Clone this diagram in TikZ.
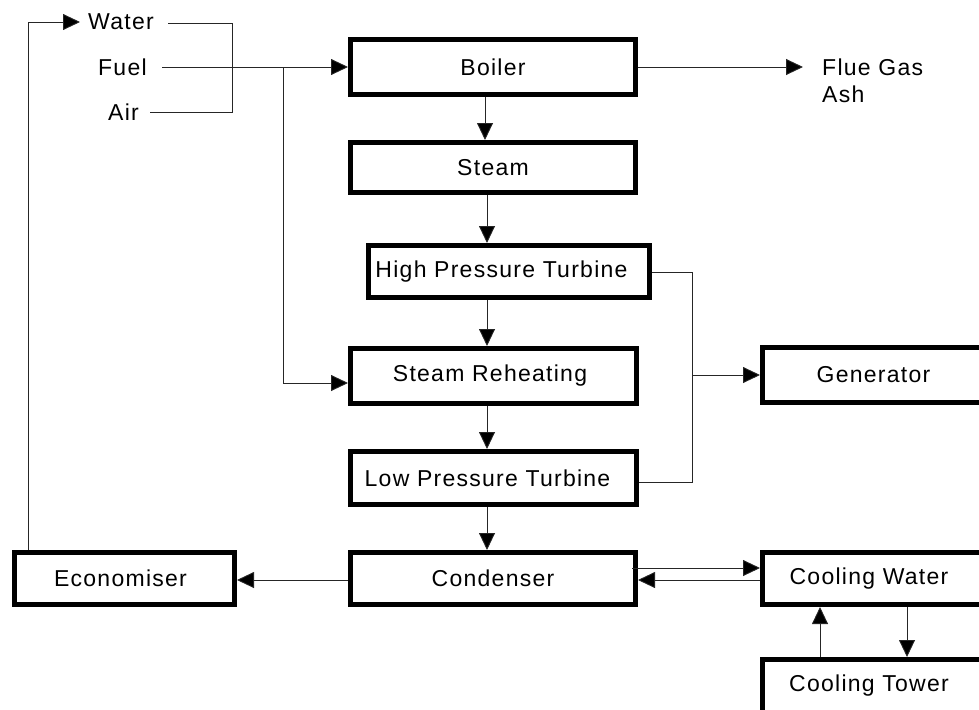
\documentclass[tikz,border=0pt]{standalone}
\usepackage{fontspec}
\setmainfont{Liberation Sans}[LetterSpace=5.5]
\usetikzlibrary{arrows.meta}
\begin{document}
\begin{tikzpicture}[x=1pt,y=-1pt,
  box/.style={draw=black,line width=5pt,rectangle,inner sep=0pt,font=\fontsize{23}{27}\selectfont},
  lbl/.style={inner sep=0pt,anchor=west,font=\fontsize{23}{27}\selectfont},
  conn/.style={line width=0.9pt,draw=black!85},
  arr/.style={conn,-{Triangle[length=17pt,width=16pt,fill=black]}}]
\useasboundingbox (0,0) rectangle (979,709);
\clip (0,0) rectangle (979,709);
% boxes
\node[box,minimum width=285pt,minimum height=55pt] (boiler) at (493,67) {Boiler};
\node[box,minimum width=285pt,minimum height=50pt] (steam) at (493,167.5) {Steam};
\node[box,minimum width=281pt,minimum height=52pt] (hpt) at (509,271.5) {\hspace*{-15pt}High Pressure Turbine};
\node[box,minimum width=286pt,minimum height=55pt] (reheat) at (493.5,376) {\hspace*{-7pt}Steam Reheating};
\node[box,minimum width=286pt,minimum height=53pt] (lpt) at (493.5,478) {\hspace*{-12pt}Low Pressure Turbine};
\node[box,minimum width=285pt,minimum height=52pt] (cond) at (493,578.5) {Condenser};
\node[box,minimum width=220pt,minimum height=52pt] (econ) at (124.5,578.5) {\hspace*{-8pt}Economiser};
\node[box,minimum width=225pt,minimum height=55pt] (gen) at (875,375) {\hspace*{-3pt}Generator};
\node[box,minimum width=225pt,minimum height=52pt] (cw) at (875,578.5) {\hspace*{-12pt}Cooling Water};
\node[box,minimum width=225pt,minimum height=53pt] (ct) at (875,686) {\hspace*{-12pt}Cooling Tower};
% labels
\node[lbl] (water) at (88,22) {Water};
\node[lbl] (fuel) at (98,67) {Fuel};
\node[lbl] (air) at (108,112) {Air};
\node[lbl,align=left] (flue) at (822,81) {Flue Gas\\Ash};
% coordinates
\coordinate (ws) at (168,23);
\coordinate (wj) at (232,23);
\coordinate (aj) at (232,112);
\coordinate (as) at (150,112);
\coordinate (fs) at (162,67);
\coordinate (fb) at (283,67);
\coordinate (fr) at (283,383);
\coordinate (wtip) at (80,22);
\coordinate (wcorner) at (28,22);
\coordinate (fluetip) at (803,67);
\coordinate (tj1) at (692,272);
\coordinate (tj2) at (692,482);
\coordinate (tj3) at (692,375);
% input connectors
\draw[conn] (ws) -- (wj) -- (aj) -- (as);
\draw[arr] (fs) -- (boiler.west);
\draw[arr] (fb) -- (fr) -- (fr -| reheat.west);
\draw[arr] (econ.north -| wcorner) -- (wcorner) -- (wtip);
% main chain
\draw[arr] (boiler.south -| 485,0) -- (steam.north -| 485,0);
\draw[arr] (steam.south -| 487,0) -- (hpt.north -| 487,0);
\draw[arr] (hpt.south -| 487,0) -- (reheat.north -| 487,0);
\draw[arr] (reheat.south -| 487,0) -- (lpt.north -| 487,0);
\draw[arr] (lpt.south -| 487,0) -- (cond.north -| 487,0);
% outputs
\draw[arr] (boiler.east) -- (fluetip);
\draw[conn] (hpt.east |- tj1) -- (tj1) -- (tj2) -- (lpt.east |- tj2);
\draw[arr] (tj3) -- (gen.west |- tj3);
\draw[arr] (cond.west |- 0,580) -- (econ.east |- 0,580);
\draw[arr] (632,568) -- (cw.west |- 0,568);
\draw[arr] (cw.west |- 0,580) -- (cond.east |- 0,580);
\draw[arr] (ct.north -| 820,0) -- (cw.south -| 820,0);
\draw[arr] (cw.south -| 907,0) -- (ct.north -| 907,0);
\end{tikzpicture}
\end{document}
